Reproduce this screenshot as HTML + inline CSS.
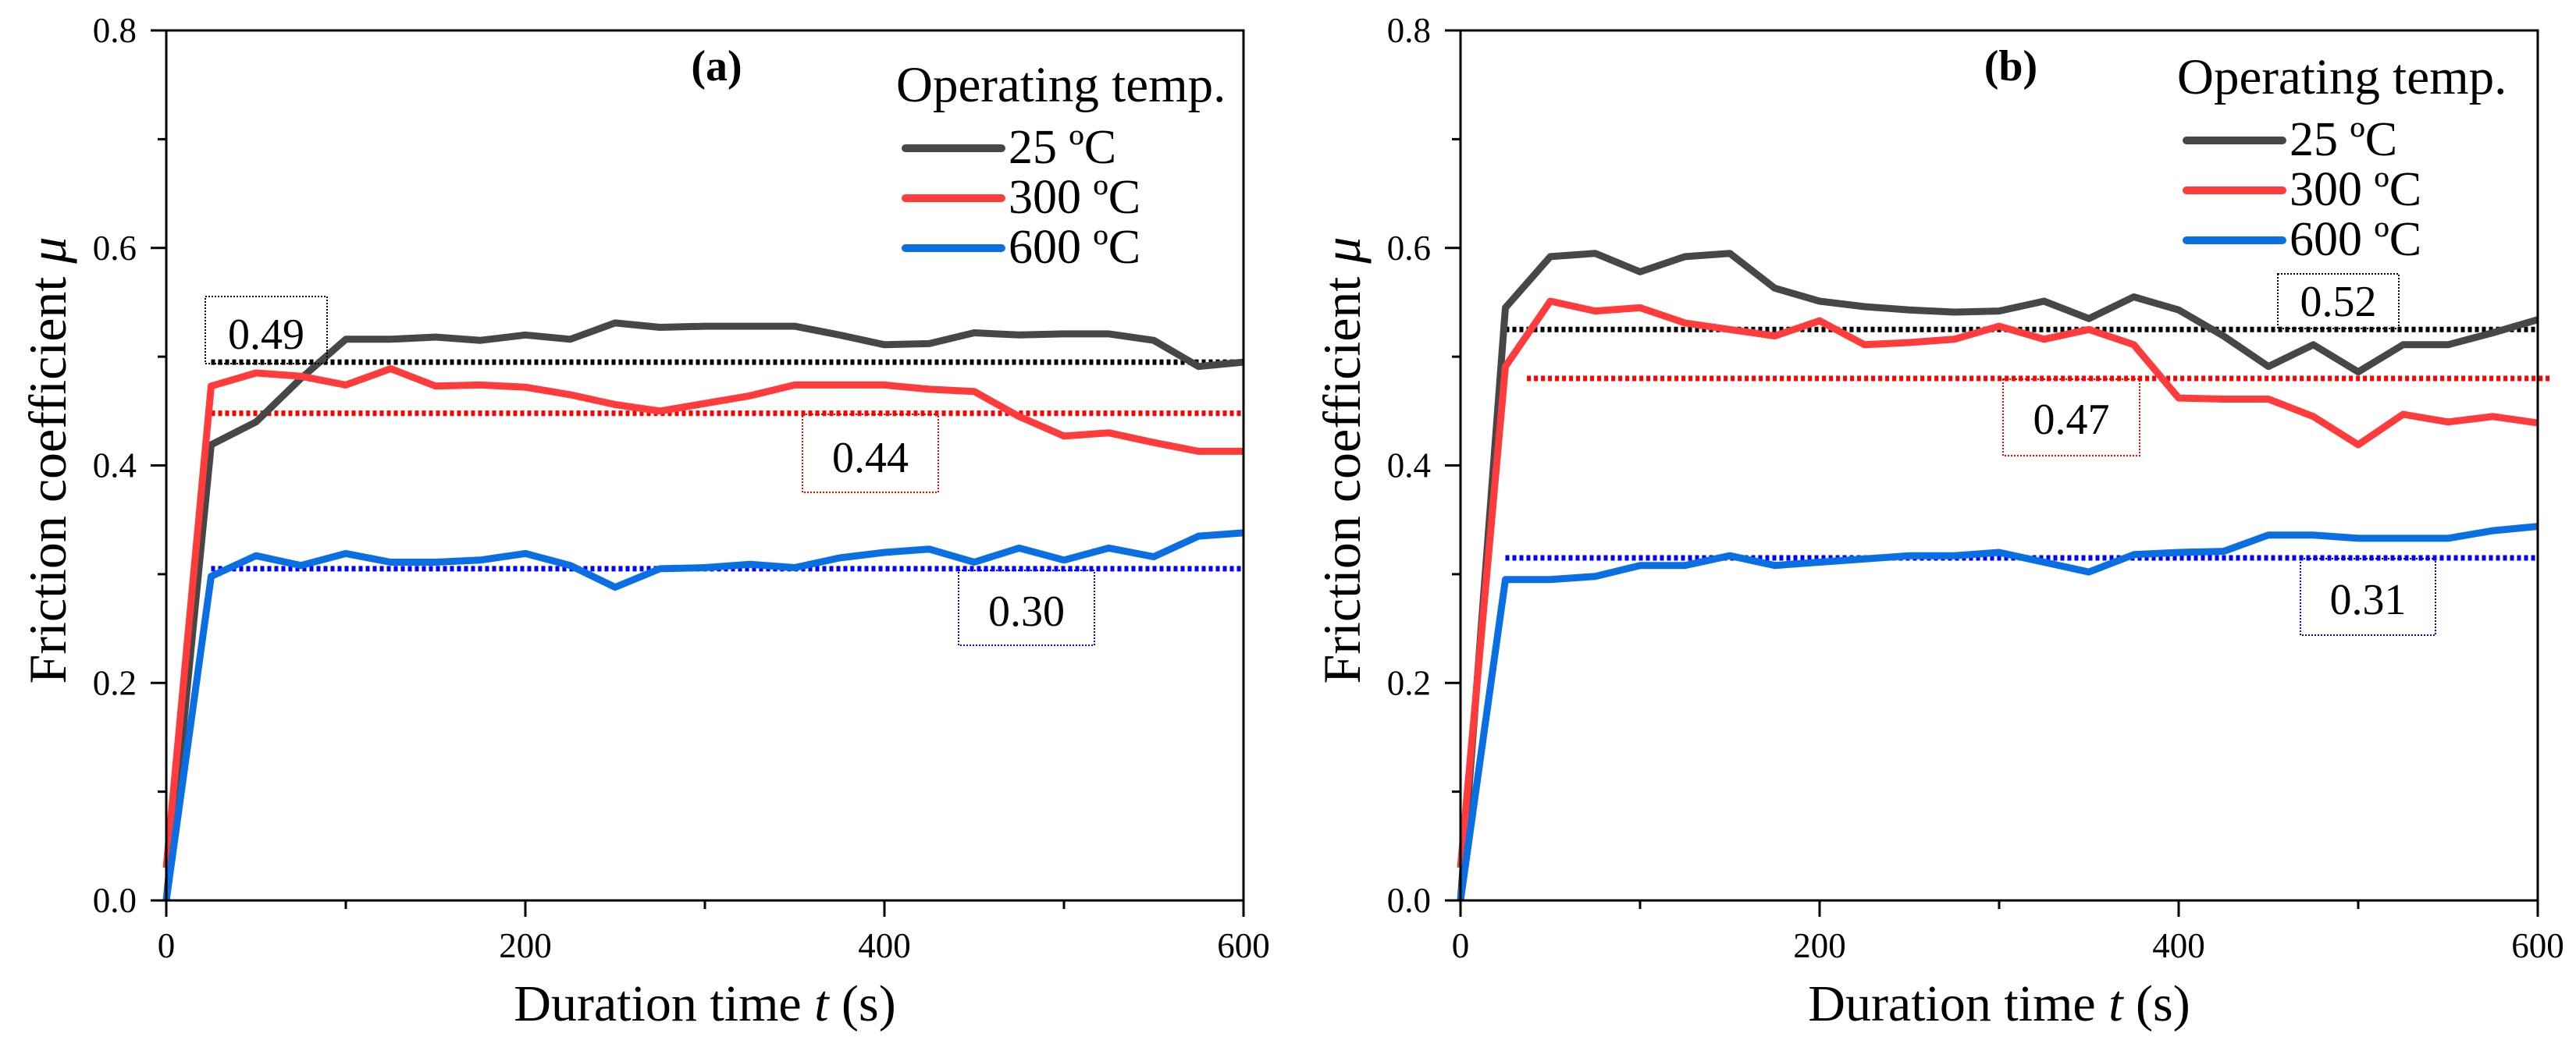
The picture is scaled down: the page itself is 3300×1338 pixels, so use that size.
<!DOCTYPE html>
<html><head><meta charset="utf-8"><style>
html,body{margin:0;padding:0;background:#fff;}
svg{display:block;font-family:"Liberation Serif",serif;}
</style></head><body>
<svg id="chart" width="3300" height="1338" viewBox="0 0 3300 1338" xmlns="http://www.w3.org/2000/svg"></svg>
<script>
const times = [0,25,50,75,100,125,150,175,200,225,250,275,300,325,350,375,400,425,450,475,500,525,550,575,600];
const aBlack = [0,0.419,0.44,0.48,0.516,0.516,0.518,0.515,0.52,0.516,0.531,0.527,0.528,0.528,0.528,0.52,0.511,0.512,0.522,0.52,0.521,0.521,0.515,0.491,0.495];
const aRed = [0.03,0.473,0.485,0.482,0.474,0.489,0.473,0.474,0.472,0.465,0.456,0.45,0.457,0.464,0.474,0.474,0.474,0.47,0.468,0.445,0.427,0.43,0.421,0.413,0.413];
const aBlue = [0,0.298,0.317,0.308,0.319,0.311,0.311,0.313,0.319,0.308,0.288,0.305,0.306,0.309,0.306,0.315,0.32,0.323,0.311,0.324,0.313,0.324,0.316,0.335,0.338];
const bBlack = [0,0.545,0.592,0.595,0.578,0.592,0.595,0.563,0.551,0.546,0.543,0.541,0.542,0.551,0.535,0.555,0.543,0.519,0.491,0.511,0.486,0.511,0.511,0.522,0.534];
const bRed = [0.03,0.491,0.551,0.542,0.545,0.531,0.525,0.519,0.533,0.511,0.513,0.516,0.528,0.516,0.525,0.511,0.462,0.461,0.461,0.445,0.419,0.447,0.44,0.445,0.439];
const bBlue = [0,0.295,0.295,0.298,0.308,0.308,0.317,0.308,0.311,0.314,0.317,0.317,0.32,0.311,0.302,0.318,0.32,0.321,0.336,0.336,0.333,0.333,0.333,0.34,0.344];
const aMeans = [0.495,0.448,0.305];
const bMeans = [0.525,0.48,0.315];
const meanLabels = ["0.49","0.44","0.30"];
const meanLabelsB = ["0.52","0.47","0.31"];
const xTicks = [0,200,400,600];
const yTicks = [0.0,0.2,0.4,0.6,0.8];
const legendLabels = ["25 ºC","300 ºC","600 ºC"];

const NS="http://www.w3.org/2000/svg";
const svg=document.getElementById('chart');
function el(tag,attrs,parent,text){const e=document.createElementNS(NS,tag);for(const k in attrs)e.setAttribute(k,attrs[k]);if(text!==undefined)e.textContent=text;(parent||svg).appendChild(e);return e;}
const colors=["#474747","#ff3b3b","#0a6fe2"];
const dotColors=["#000000","#ff0000","#0000ff"];
const Y0=1154,YT=39;
function yS(v){return Y0-v/0.8*(Y0-YT);}

function panel(px0,series,means,mlabels,boxes,tag,legX,legY,meanStart,meanEnd){
  const W=1380;
  const xS=t=>px0+t/600*W;
  const g=el('g',{});
  
  
  means.forEach((m,i)=>{
    const l=el('line',{x1:xS(meanStart[i]),x2:meanEnd[i]===null?xS(600):meanEnd[i],y1:yS(m),y2:yS(m),stroke:dotColors[i],'stroke-width':7,'stroke-dasharray':'5 4'},g);
    
    
  });
  series.forEach((s,i)=>{
    const d=s.map((v,j)=>(j?'L':'M')+xS(times[j]).toFixed(1)+' '+yS(v).toFixed(1)).join(' ');
    const p=el('path',{d:d,fill:'none',stroke:colors[i],'stroke-width':9,'stroke-linejoin':'round'},g);
    
    
  });
  boxes.forEach((b,i)=>{
    const r=el('rect',{x:b[0],y:b[1],width:b[2]-b[0],height:b[3]-b[1],fill:'none',stroke:dotColors[i],'stroke-width':2,'stroke-dasharray':'2 2'},g);
    
    
    const t=el('text',{x:(b[0]+b[2])/2,y:b[4],'font-size':56,'text-anchor':'middle',fill:'#000'},g,mlabels[i]);
    
    
  });
  const ax=el('rect',{x:px0,y:YT,width:W,height:Y0-YT,fill:'none',stroke:'#000','stroke-width':3},g);
  
  
  for(let t=0;t<=600;t+=100){
    const maj=t%200===0;
    el('line',{x1:xS(t),x2:xS(t),y1:Y0,y2:Y0+(maj?21:11),stroke:'#000','stroke-width':3},g);
  }
  xTicks.forEach(t=>{
    const tx=el('text',{x:xS(t),y:1227,'font-size':45,'text-anchor':'middle'},g,String(t));
    
    
  });
  for(let k=0;k<=8;k++){
    const v=k/10,maj=k%2===0;
    el('line',{x1:px0-(maj?20:11),x2:px0,y1:yS(v),y2:yS(v),stroke:'#000','stroke-width':3},g);
  }
  yTicks.forEach(v=>{
    const tx=el('text',{x:px0-38,y:yS(v)+15,'font-size':45,'text-anchor':'end'},g,v.toFixed(1));
    
    
  });
  const xt=el('text',{x:px0+690,y:1308,'font-size':66,'text-anchor':'middle'},g);
  
  
  el('tspan',{},xt,'Duration time ');el('tspan',{'font-style':'italic'},xt,'t');el('tspan',{},xt,' (s)');
  const yc=px0-153;
  const yt=el('text',{x:yc,y:590,'font-size':68,'text-anchor':'middle',transform:`rotate(-90 ${yc} 590)`,dy:24},g);
  
  
  el('tspan',{},yt,'Friction coefficient ');el('tspan',{'font-style':'italic'},yt,'μ');
  const pl=el('text',{x:px0+705,y:103,'font-size':56,'font-weight':'bold','text-anchor':'middle'},g,'('+tag+')');
  
  
  const lt=el('text',{x:legX,y:legY,'font-size':65},g,'Operating temp.');
  
  
  legendLabels.forEach((lab,i)=>{
    const ly=legY+60+i*64;
    const ln=el('line',{x1:legX+12,x2:legX+135,y1:ly,y2:ly,stroke:colors[i],'stroke-width':10,'stroke-linecap':'round'},g);
    
    
    const lx=el('text',{x:legX+144,y:ly+19,'font-size':62},g,lab);
    
    
  });
}
panel(213,[aBlack,aRed,aBlue],aMeans,meanLabels,
  [[263,380,419,466,447],[1028,531,1202,631,605],[1228,731,1402,827,802]],'a',1148,130,[25,25,25],[null,null,null]);
panel(1871,[bBlack,bRed,bBlue],bMeans,meanLabelsB,
  [[2918,351,3073,421,405],[2566,486,2741,584,556],[2947,716,3120,814,787]],'b',2789,120,[25,37,25],[null,3270,null]);
</script>
</body></html>
